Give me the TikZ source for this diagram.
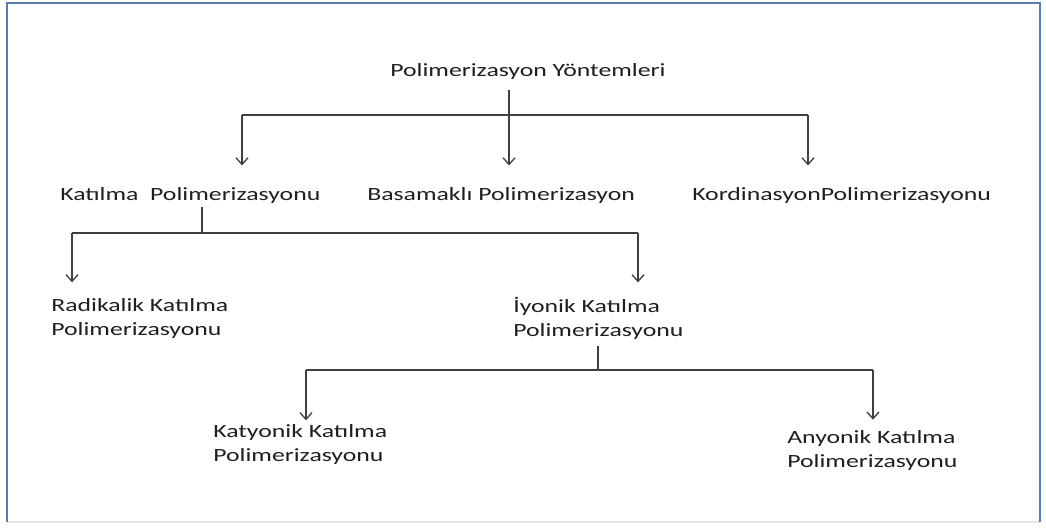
\documentclass[tikz,border=0pt]{standalone}
\usepackage{graphicx}
\usepackage{fontspec}
\setmainfont{Carlito}
\usetikzlibrary{arrows.meta}
\newcommand\sx[1]{\scalebox{1.38}[1]{#1}}
\begin{document}
\begin{tikzpicture}[x=0.75pt,y=-0.75pt,
  lbl/.style={inner sep=0pt,anchor=base west,font=\fontsize{14}{17.6}\selectfont,text=black!88,align=left},
  conn/.style={draw=black!75,line width=1pt},
  arr/.style={conn,-{Straight Barb[length=5pt,width=9pt]}}]
\useasboundingbox (0,0) rectangle (1046,531);
\fill[white] (0,0) rectangle (1046,531);
\draw[draw=gray!20,line width=1pt] (7,522) -- (1040,522);
\draw[draw={rgb,255:red,88;green,124;blue,176},line width=1.6pt] (7,522) -- (7,3) -- (1040,3) -- (1040,522);

% nodes (multi-line nodes: base = last line)
\node[lbl] (title) at (390,77) {\sx{Polimerizasyon Yöntemleri}};
\node[lbl] (katilma) at (60,200) {\sx{Katılma\ \ Polimerizasyonu}};
\node[lbl] (basamakli) at (367,200) {\sx{Basamaklı Polimerizasyon}};
\node[lbl] (kordinasyon) at (692,200) {\sx{KordinasyonPolimerizasyonu}};
\node[lbl] (radikalik) at (51,335) {\sx{Radikalik Katılma}\\\sx{Polimerizasyonu}};
\node[lbl] (iyonik) at (513,336) {\sx{İyonik Katılma}\\\sx{Polimerizasyonu}};
\node[lbl] (katyonik) at (213,461) {\sx{Katyonik Katılma}\\\sx{Polimerizasyonu}};
\node[lbl] (anyonik) at (787,467) {\sx{Anyonik Katılma}\\\sx{Polimerizasyonu}};

% junctions
\coordinate (j1) at (509,115);
\coordinate (a1) at (242,115);
\coordinate (a3) at (808,115);
\coordinate (j2) at (202,233);
\coordinate (b1) at (72,233);
\coordinate (b2) at (638,233);
\coordinate (j3) at (598,370);
\coordinate (c1) at (306,370);
\coordinate (c2) at (873,370);

% level 1
\draw[conn,shorten <=7pt] (title.south -| j1) -- (j1);
\draw[conn] (a1) -- (a3);
\draw[arr,shorten >=16pt] (j1) -- (j1 |- basamakli.north);
\draw[arr,shorten >=16pt] (a1) -- (a1 |- katilma.north);
\draw[arr,shorten >=16pt] (a3) -- (a3 |- kordinasyon.north);

% level 2
\draw[conn,shorten <=3pt] (katilma.south -| j2) -- (j2);
\draw[conn] (b1) -- (b2);
\draw[arr,shorten >=12pt] (b1) -- (b1 |- radikalik.north);
\draw[arr,shorten >=11pt] (b2) -- (b2 |- iyonik.north);

% level 3
\draw[conn,shorten <=5pt] (iyonik.south -| j3) -- (j3);
\draw[conn] (c1) -- (c2);
\draw[arr,shorten >=3pt] (c1) -- (c1 |- katyonik.north);
\draw[arr,shorten >=8pt] (c2) -- (c2 |- anyonik.north);
\end{tikzpicture}
\end{document}
